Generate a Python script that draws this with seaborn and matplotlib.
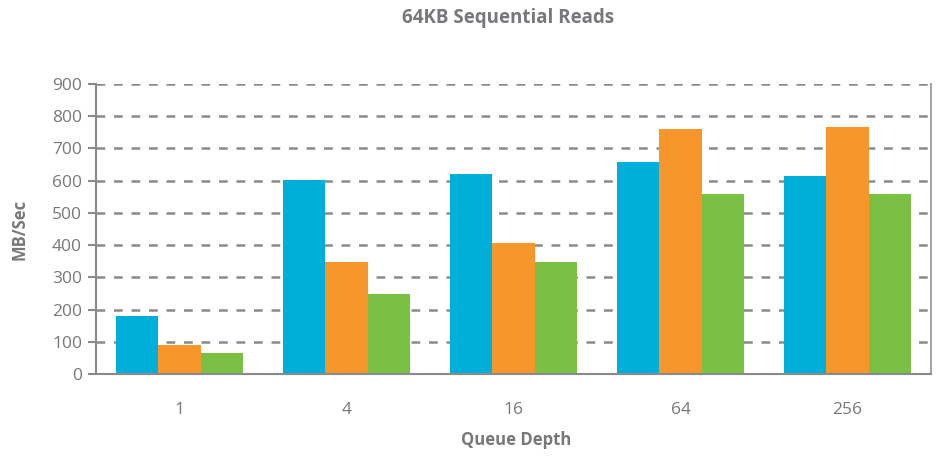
import pandas as pd
import matplotlib.pyplot as plt
import seaborn as sns

# values (MB/Sec)
queue_depths = ["1", "4", "16", "64", "256"]
series_names = ["A", "B", "C"]
series_a = [180, 602, 621, 658, 615]
series_b = [90, 348, 407, 761, 767]
series_c = [65, 248, 348, 559, 559]
colors = ["#00AEDA", "#F7962A", "#7AC143"]
y_ticks = [0, 100, 200, 300, 400, 500, 600, 700, 800, 900]

text_color = "#77787B"
line_color = "#8A8A8C"

rows = []
for name, values in zip(series_names, [series_a, series_b, series_c]):
    for qd, v in zip(queue_depths, values):
        rows.append({"Queue Depth": qd, "MB/Sec": v, "series": name})
df = pd.DataFrame(rows)

sns.set_style("white")
plt.rcParams["font.family"] = ["Open Sans", "DejaVu Sans"]

W, H = 941, 457
fig = plt.figure(figsize=(W / 100, H / 100), dpi=100)
ax = fig.add_axes([96 / W, 1 - 374 / H, 835 / W, 290 / H])

sns.barplot(data=df, x="Queue Depth", y="MB/Sec", hue="series",
            order=queue_depths, hue_order=series_names, palette=colors,
            width=0.755, saturation=1, legend=False, linewidth=0, ax=ax)

ax.set_xlim(-0.5, len(queue_depths) - 0.5)
ax.set_ylim(0, 900)
ax.set_yticks(y_ticks)
ax.set_axisbelow(True)
ax.yaxis.grid(True, color=line_color, linestyle=(0, (3.5, 3.5)), linewidth=1.8)

# ticks between categories, labels centred without ticks
ax.set_xticks(range(len(queue_depths)))
ax.set_xticklabels(queue_depths)
ax.set_xticks([i - 0.5 for i in range(len(queue_depths) + 1)], minor=True)
ax.tick_params(axis="x", which="major", length=0, pad=20, labelsize=12.5, labelcolor=text_color)
ax.tick_params(axis="x", which="minor", length=7, width=1.5, color=line_color, direction="out")
ax.tick_params(axis="y", length=6, width=1.5, color=line_color, pad=4,
               labelsize=12.5, labelcolor=text_color, left=True)

for side in ["left", "bottom", "right"]:
    ax.spines[side].set_color(line_color)
    ax.spines[side].set_linewidth(1.5)
ax.spines["right"].set_color("#A5A5A7")
ax.spines["top"].set_visible(False)

ax.set_xlabel("Queue Depth", fontsize=12, fontweight="bold", color=text_color)
ax.set_ylabel("MB/Sec", fontsize=12, fontweight="bold", color=text_color)
ax.xaxis.set_label_coords(516 / W, 1 - 440 / H, transform=fig.transFigure)
ax.yaxis.set_label_coords(20 / W, 1 - 229 / H, transform=fig.transFigure)
ax.xaxis.label.set_va("center")
ax.yaxis.label.set_va("center")
fig.text(508 / W, 1 - 18 / H, "64KB Sequential Reads", ha="center", va="center",
         fontsize=13.5, fontweight="bold", color=text_color)

fig.savefig("out.png", dpi=100)
plt.close(fig)
